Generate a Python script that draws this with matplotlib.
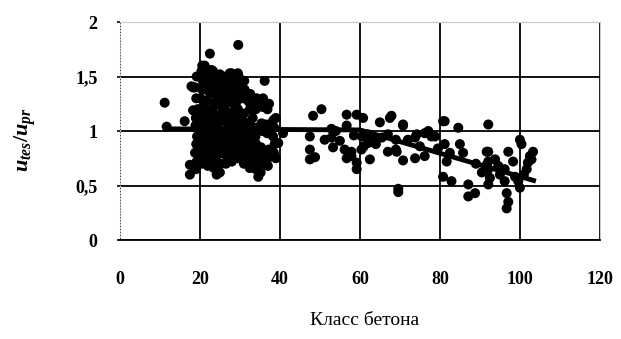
import matplotlib
matplotlib.use("Agg")
import matplotlib.pyplot as plt

plt.rcParams['font.family'] = ['Liberation Serif', 'DejaVu Serif']
plt.rcParams['mathtext.fontset'] = 'custom'
plt.rcParams['mathtext.it'] = 'Liberation Serif:italic:bold'
plt.rcParams['mathtext.rm'] = 'Liberation Serif:bold'

# --- data ---
# isolated / edge points
x_edge = [29.6, 22.5, 11.2, 11.7, 16.2, 17.5, 17.5, 18.3, 18.3, 36.2, 35.8, 34.6, 24.2, 21.2,
          27.5, 29.5, 39.0, 39.0, 19.6, 22.0, 24.6, 17.9, 22.9, 40.8, 39.6]
y_edge = [1.79, 1.71, 1.26, 1.04, 1.09, 0.69, 0.60, 1.19, 1.40, 1.46, 1.30, 0.58, 0.60, 1.60,
          1.53, 1.53, 1.12, 0.75, 0.73, 0.70, 0.64, 1.41, 1.56, 0.98, 0.89]

# dense cluster, concrete classes 18-39
x_blob = [19.0, 19.2, 18.8, 19.1, 19.3, 18.9, 19.0, 19.4, 19.1, 18.8, 19.2,
          20.5, 20.8, 20.3, 20.6, 20.4, 20.9, 20.5, 20.7, 20.2, 20.6, 20.8, 20.4, 20.6,
          22.0, 22.3, 21.8, 22.1, 22.4, 21.9, 22.2, 22.0, 21.7, 22.3, 22.1, 21.9,
          23.5, 23.7, 23.3, 23.6, 23.4, 23.8, 23.5, 23.2, 23.6, 23.4, 23.7, 23.5, 23.3,
          25.0, 25.2, 24.8, 25.1, 25.3, 24.9, 25.0, 25.4, 24.7, 25.1, 25.2, 24.9, 25.0,
          26.5, 26.7, 26.3, 26.6, 26.4, 26.8, 26.5, 26.2, 26.6, 26.4, 26.7, 26.5,
          28.0, 28.2, 27.8, 28.1, 28.3, 27.9, 28.0, 28.4, 27.7, 28.1, 28.2, 27.9,
          29.5, 29.7, 29.3, 29.6, 29.4, 29.8, 29.5, 29.2, 29.6, 29.4, 29.7,
          31.0, 31.2, 30.8, 31.1, 30.9, 31.3, 31.0, 30.8, 31.2, 31.1,
          32.5, 32.7, 32.3, 32.6, 32.4, 32.8, 32.5, 32.2, 32.6,
          34.0, 34.2, 33.8, 34.1, 33.9, 34.3, 34.0, 33.7, 34.2,
          35.5, 35.7, 35.3, 35.6, 35.4, 35.8, 35.5, 35.2,
          37.0, 37.2, 36.8, 37.1, 36.9, 37.3, 37.0,
          38.5, 38.7, 38.3, 38.6, 38.4,
          21.2, 24.3, 27.2, 30.2, 33.2, 36.3, 21.4, 24.1, 27.4, 30.4, 33.0]
y_blob = [0.65, 0.72, 0.80, 0.88, 0.95, 1.05, 1.12, 1.20, 1.30, 1.40, 1.50,
          0.70, 0.78, 0.85, 0.93, 1.00, 1.08, 1.15, 1.22, 1.30, 1.38, 1.45, 1.55, 1.60,
          0.68, 0.76, 0.83, 0.90, 0.98, 1.05, 1.13, 1.20, 1.28, 1.36, 1.44, 1.52,
          0.66, 0.74, 0.81, 0.89, 0.96, 1.04, 1.11, 1.18, 1.26, 1.34, 1.41, 1.48, 1.55,
          0.62, 0.70, 0.79, 0.86, 0.94, 1.01, 1.09, 1.16, 1.24, 1.31, 1.39, 1.46, 1.52,
          0.70, 0.77, 0.84, 0.92, 0.99, 1.07, 1.14, 1.22, 1.29, 1.37, 1.44, 1.50,
          0.72, 0.80, 0.87, 0.95, 1.02, 1.10, 1.17, 1.25, 1.33, 1.40, 1.47, 1.53,
          0.75, 0.82, 0.90, 0.97, 1.05, 1.12, 1.20, 1.27, 1.35, 1.42, 1.50,
          0.70, 0.78, 0.86, 0.93, 1.01, 1.08, 1.16, 1.30, 1.38, 1.46,
          0.66, 0.74, 0.82, 0.90, 0.97, 1.05, 1.20, 1.27, 1.34,
          0.65, 0.72, 0.80, 0.88, 0.95, 1.03, 1.20, 1.25, 1.30,
          0.70, 0.78, 0.85, 1.00, 1.07, 1.22, 1.28, 0.62,
          0.75, 0.83, 0.98, 1.06, 1.20, 1.25, 0.68,
          0.80, 0.88, 0.95, 1.03, 1.10,
          1.04, 1.12, 1.06, 1.16, 1.12, 1.06, 0.88, 0.92, 0.84, 0.90, 0.86]

# classes 47-70
x_mid = [50.4, 48.3, 56.7, 59.2, 52.9, 56.7, 47.5, 51.2, 52.9, 55.0, 53.3, 56.2, 57.9, 47.5,
         47.5, 48.8, 56.7, 57.9, 59.2, 59.2, 62.5, 62.1, 65.0, 67.5, 60.5, 62.0, 63.5, 65.5,
         67.0, 69.0, 60.4, 67.0, 69.0, 60.8, 67.9, 69.6, 69.6, 61.0, 64.0, 54.0, 58.5]
y_mid = [1.20, 1.14, 1.15, 1.15, 1.02, 1.05, 0.95, 0.92, 0.94, 0.91, 0.85, 0.83, 0.81, 0.83,
         0.74, 0.76, 0.75, 0.77, 0.71, 0.65, 0.74, 0.89, 1.08, 1.12, 0.95, 0.97, 0.93, 0.94,
         0.97, 0.92, 0.83, 0.81, 0.83, 1.12, 1.14, 0.44, 0.47, 0.86, 0.88, 1.0, 0.96]

# classes 70-104
x_high = [70.8, 74.2, 77.1, 78.8, 81.2, 70.8, 73.8, 76.2, 69.2, 73.8, 76.2, 77.9, 70.8,
          80.8, 84.6, 92.1, 81.2, 85.0, 82.5, 85.8, 81.7, 80.8, 82.9, 87.1, 87.1, 88.8,
          92.1, 92.1, 92.1, 92.5, 92.1, 91.7, 91.7, 97.1, 98.3, 96.2, 96.2, 96.7, 97.1,
          96.7, 100.0, 100.4, 103.3, 102.5, 102.0, 101.7, 100.0, 99.6, 93.8, 94.6, 102.9,
          72.0, 75.0, 79.5, 89.0, 90.5, 95.0, 98.8, 101.0]
y_high = [1.06, 0.97, 1.00, 0.95, 1.09, 0.73, 0.75, 0.77, 0.81, 0.94, 0.98, 0.95, 1.05,
          1.09, 1.03, 1.06, 0.88, 0.88, 0.80, 0.80, 0.72, 0.58, 0.54, 0.51, 0.40, 0.43,
          0.81, 0.72, 0.65, 0.57, 0.51, 0.81, 0.69, 0.81, 0.72, 0.65, 0.54, 0.43, 0.35,
          0.29, 0.92, 0.88, 0.81, 0.77, 0.71, 0.65, 0.48, 0.54, 0.74, 0.68, 0.74,
          0.92, 0.86, 0.84, 0.70, 0.62, 0.60, 0.58, 0.60]

# trend line
trend_x = [11, 60, 104]
trend_y = [1.02, 1.01, 0.54]

x_ticks = [0, 20, 40, 60, 80, 100, 120]
y_ticks = [0, 0.5, 1, 1.5, 2]
y_tick_labels = ['0', '0,5', '1', '1,5', '2']

fig = plt.figure(figsize=(6.21, 3.39), dpi=100)
ax = fig.add_axes([0.193, 0.292, 0.773, 0.643])

xs = x_edge + x_blob + x_mid + x_high
ys = y_edge + y_blob + y_mid + y_high
ax.scatter(xs, ys, s=52, color='black', edgecolors='none', zorder=3)
ax.plot(trend_x, trend_y, color='black', lw=3.5, zorder=4, solid_capstyle='butt')

ax.set_xlim(0, 120)
ax.set_ylim(0, 2)
ax.set_xticks(x_ticks)
ax.set_yticks(y_ticks)
ax.set_yticklabels(y_tick_labels)
for lab in ax.get_xticklabels() + ax.get_yticklabels():
    lab.set_fontweight('bold')
    lab.set_fontsize(13)
ax.tick_params(axis='x', length=0, pad=22)
ax.tick_params(axis='y', length=2, pad=14, width=1.2)

ax.grid(True, color='black', lw=1.3, zorder=1)
for s in ['top', 'right', 'left']:
    ax.spines[s].set_color('#c8c8c8')
    ax.spines[s].set_linewidth(0.8)
ax.spines['left'].set_linestyle(':')
ax.spines['bottom'].set_color('black')
ax.spines['bottom'].set_linewidth(1.3)
ax.set_axisbelow(True)

ax.set_xlabel('Класс бетона', fontsize=14)
ax.xaxis.set_label_coords(0.51, -0.33)
ax.set_ylabel(r'$u_{tes}/u_{pr}$', fontsize=16)
ax.yaxis.set_label_coords(-0.171, 0.46)

fig.savefig('out.png', dpi=100)
